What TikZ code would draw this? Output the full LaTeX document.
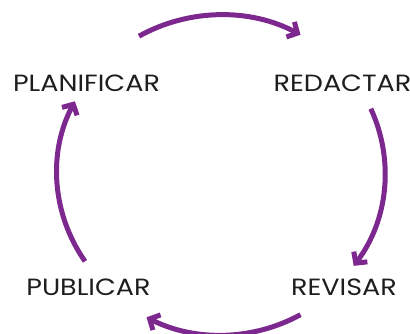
\documentclass[tikz,border=0pt]{standalone}
\usepackage{fontspec}
\setmainfont{Poppins}[FakeStretch=1.15]
\usetikzlibrary{arrows.meta,calc}
\definecolor{cyclepurple}{RGB}{125,40,142}
\definecolor{labelink}{RGB}{30,30,30}
\tikzset{
  stage/.style={inner sep=0pt, anchor=center, text=labelink, font=\fontsize{23.5}{25}\selectfont},
  cyclearrow/.style={draw=cyclepurple, line width=5pt,
    -{Straight Barb[length=8pt,width=17pt,line width=5pt]}},
}
\begin{document}
\begin{tikzpicture}[x=1pt,y=1pt]
\useasboundingbox (0,0) rectangle (410,334);
\coordinate (c) at (221,161);
\node[stage] (plan) at (86.5,251) {PLANIFICAR};
\node[stage] (red) at (342.5,251) {REDACTAR};
\node[stage] (pub) at (88.5,47) {PUBLICAR};
\node[stage] (rev) at (344,47) {REVISAR};
\coordinate (a1) at ([shift={(120:164pt and 158pt)}]c);
\coordinate (a2) at ([shift={(24:164pt and 158pt)}]c);
\coordinate (a3) at ([shift={(-61:164pt and 162pt)}]c);
\coordinate (a4) at ([shift={(214:164pt and 158pt)}]c);
\draw[cyclearrow] (a1) arc[start angle=120,end angle=61,x radius=164pt,y radius=158pt];
\draw[cyclearrow] (a2) arc[start angle=24,end angle=-36,x radius=164pt,y radius=158pt];
\draw[cyclearrow] (a3) arc[start angle=-61,end angle=-117,x radius=164pt,y radius=162pt];
\draw[cyclearrow] (a4) arc[start angle=214,end angle=153,x radius=164pt,y radius=158pt];
\end{tikzpicture}
\end{document}
